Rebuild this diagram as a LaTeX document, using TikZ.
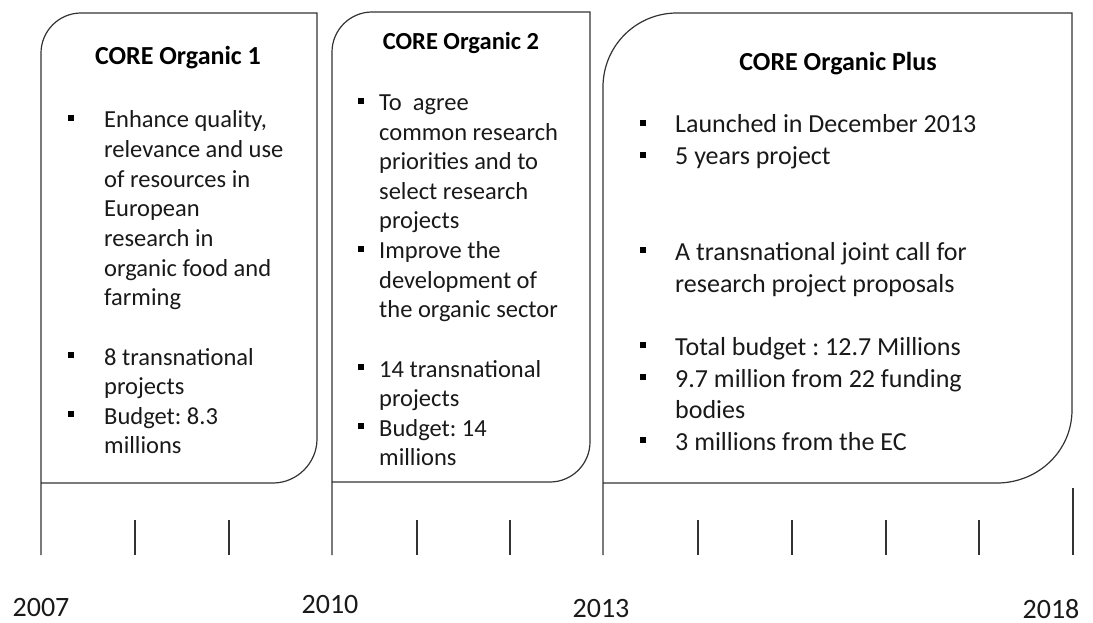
\documentclass[tikz,border=0pt]{standalone}
\usepackage{fontspec}
\setmainfont{Carlito}
\frenchspacing
\begin{document}
\begin{tikzpicture}[x=1pt,y=-1pt,
  boxline/.style={draw=black!80, line width=1.2pt},
  tick/.style={draw=black!80, line width=1.2pt},
  ln/.style={anchor=base west, inner sep=0pt, font=\fontsize{24.5}{29}\selectfont, text=black!90},
  lnB/.style={anchor=base west, inner sep=0pt, font=\fontsize{26}{31}\selectfont, text=black!90},
  ttl/.style={anchor=base, inner sep=0pt, font=\bfseries\fontsize{26}{31}\selectfont, text=black},
  blt/.style={rectangle, fill=black, draw=none, inner sep=0pt, minimum size=6pt},
  yr/.style={anchor=base, inner sep=0pt, font=\fontsize{28}{32}\selectfont, text=black!90}]
\useasboundingbox (0,0) rectangle (1093,623);

% boxes
\draw[boxline] (41,555) -- (41,53) .. controls (41,31) and (59,13) .. (81,13) -- (317,13) -- (317,439) .. controls (317,463) and (297,483) .. (273,483) -- (41,483);
\draw[boxline] (332,555) -- (332,52) .. controls (332,30) and (350,12) .. (372,12) -- (590,12) -- (590,442) .. controls (590,464) and (572,482) .. (550,482) -- (332,482);
\draw[boxline] (603,555) -- (603,87) .. controls (603,46) and (636,13) .. (677,13) -- (1072,13) -- (1072,410) .. controls (1072,451) and (1038,483) .. (997,483) -- (603,483);

% ticks
\foreach \x [count=\i] in {135,229,417,510,698,792,886,979}{
  \coordinate (s\i a) at (\x,520);
  \coordinate (s\i b) at (\x,555);
  \draw[tick] (s\i a) -- (s\i b);
}
\coordinate (e1) at (1073,488);
\coordinate (e2) at (1073,555);
\draw[tick] (e1) -- (e2);

% titles
\node[ttl] (t1) at (178,65) {CORE Organic 1};
\node[ttl, font=\bfseries\fontsize{24.5}{29}\selectfont] (t2) at (461,50) {CORE Organic 2};
\node[ttl] (t3) at (838,71) {CORE Organic Plus};

% box 1
\node[blt] (b1a) at (71,118) {};
\node[ln] (a1) at (104,128) {Enhance quality,};
\node[ln] (a2) at (104,157.6) {relevance and use};
\node[ln] (a3) at (104,187.2) {of resources in};
\node[ln] (a4) at (104,216.8) {European};
\node[ln] (a5) at (104,246.4) {research in};
\node[ln] (a6) at (104,276) {organic food and};
\node[ln] (a7) at (104,305.6) {farming};
\node[blt] (b1b) at (71,355) {};
\node[ln] (a8) at (104,365) {8 transnational};
\node[ln] (a9) at (104,394.6) {projects};
\node[blt] (b1c) at (71,414) {};
\node[ln] (a10) at (104,424.2) {Budget: 8.3};
\node[ln] (a11) at (104,453.8) {millions};

% box 2
\node[blt] (b2a) at (361,101) {};
\node[ln] (c1) at (379,111) {To\ \ agree};
\node[ln] (c2) at (379,140.5) {common research};
\node[ln] (c3) at (379,170) {priorities and to};
\node[ln] (c4) at (379,199.5) {select research};
\node[ln] (c5) at (379,229) {projects};
\node[blt] (b2b) at (361,248.5) {};
\node[ln] (c6) at (379,258.5) {Improve the};
\node[ln] (c7) at (379,288) {development of};
\node[ln] (c8) at (379,317.5) {the organic sector};
\node[blt] (b2c) at (361,367) {};
\node[ln] (c9) at (379,377) {14 transnational};
\node[ln] (c10) at (379,406.5) {projects};
\node[blt] (b2d) at (361,426) {};
\node[ln] (c11) at (379,436) {Budget: 14};
\node[ln] (c12) at (379,465.5) {millions};

% box 3
\node[blt] (b3a) at (643,123) {};
\node[lnB] (d1) at (675,133) {Launched in December 2013};
\node[blt] (b3b) at (643,155) {};
\node[lnB] (d2) at (675,165) {5 years project};
\node[blt] (b3c) at (643,250) {};
\node[lnB] (d3) at (675,260) {A transnational joint call for};
\node[lnB] (d4) at (675,292) {research project proposals};
\node[blt] (b3d) at (643,345) {};
\node[lnB] (d5) at (675,355) {Total budget : 12.7 Millions};
\node[blt] (b3e) at (643,377) {};
\node[lnB] (d6) at (675,387) {9.7 million from 22 funding};
\node[lnB] (d7) at (675,418) {bodies};
\node[blt] (b3f) at (643,440) {};
\node[lnB] (d8) at (675,450) {3 millions from the EC};

% years
\node[yr] (y1) at (41,616) {2007};
\node[yr] (y2) at (330,613) {2010};
\node[yr] (y3) at (601,617) {2013};
\node[yr] (y4) at (1051,618) {2018};
\end{tikzpicture}
\end{document}
